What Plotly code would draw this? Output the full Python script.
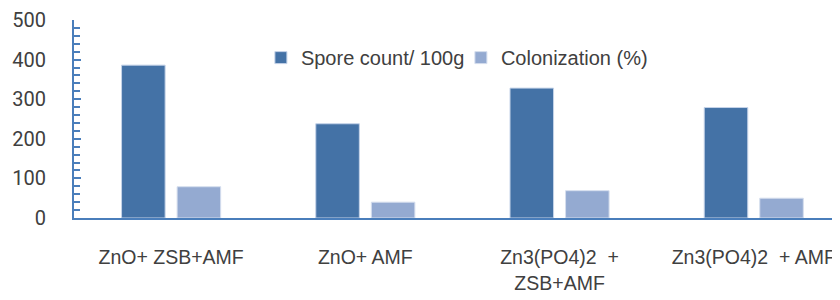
import plotly.graph_objects as go

categories = ["ZnO+ ZSB+AMF", "ZnO+ AMF", "Zn3(PO4)2\u00a0\u00a0+<br>ZSB+AMF", "Zn3(PO4)2\u00a0\u00a0+ AMF"]
spore_count = [386, 238, 328, 279]
colonization = [79, 40, 69, 50]
y_ticks = [0, 100, 200, 300, 400, 500]

dark = "#4472a6"
light = "#94aad1"
axis_col = "#4a7ebb"
xs = list(range(len(categories)))

fig = go.Figure()
fig.add_trace(go.Bar(x=xs, y=spore_count, name="Spore count/ 100g",
                     marker=dict(color=dark, line=dict(color="#c5d3e8", width=1))))
fig.add_trace(go.Bar(x=xs, y=colonization, name="Colonization (%)",
                     marker=dict(color=light, line=dict(color="#d5deee", width=1))))

# page body has an 8px default margin, so the figure is smaller and offset inside the page
fig.update_layout(
    width=832, height=292,
    margin=dict(l=66, r=0, t=12, b=82),
    paper_bgcolor="white", plot_bgcolor="white",
    barmode="group", bargap=0.428, bargroupgap=0.216,
    font=dict(family="Liberation Sans, Arial", color="#404040", size=20),
    legend=dict(orientation="h", x=0.244, y=0.81, xanchor="left", yanchor="middle",
                font=dict(size=20, family="Liberation Sans, Arial", color="#404040"),
                bgcolor="rgba(0,0,0,0)", itemwidth=30, tracegroupgap=0, entrywidth=155),
    showlegend=True,
)
fig.update_xaxes(
    tickmode="array", tickvals=xs, ticktext=categories,
    range=[-0.5, 3.444], automargin=False,
    showline=True, linecolor=axis_col, linewidth=2,
    ticks="", showgrid=False, zeroline=False,
    ticklabeloverflow="allow", ticklabelstandoff=21,
    tickfont=dict(family="Liberation Sans, Arial", size=19.5, color="#404040"),
)
fig.update_yaxes(
    range=[0, 500], tickvals=y_ticks, automargin=False,
    showline=True, linecolor=axis_col, linewidth=2,
    ticks="inside", ticklen=7, tickwidth=2, tickcolor=axis_col,
    minor=dict(dtick=20, ticks="inside", ticklen=6, tickwidth=2, tickcolor=axis_col),
    showgrid=False, zeroline=False,
    ticklabelstandoff=22,
    tickfont=dict(family="Roboto, Liberation Sans, Arial", size=20, color="#404040"),
)

fig.write_html("out.html")
